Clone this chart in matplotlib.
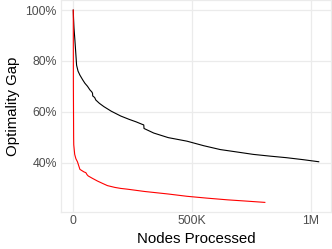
import matplotlib
matplotlib.use('agg')
import matplotlib.pyplot as plt
from matplotlib.ticker import FuncFormatter

# nodes processed vs optimality gap (%)
nodes_black = [0, 1000, 3000, 7000, 14000, 20000, 28000, 40000, 49000, 60000,
               70000, 78000, 81000, 82000, 90000, 95000, 110000, 129000, 160000,
               200000, 235000, 265000, 291000, 297000, 298000, 339000, 400000,
               479000, 550000, 619000, 700000, 758000, 830000, 898000, 970000,
               1034000]
gap_black = [100, 97, 93, 88, 78.3, 76, 74.4, 72.5, 71.2, 70,
             68.6, 67.8, 67.3, 66.2, 65.6, 64.6, 63.3, 62, 60.2,
             58.3, 57, 56, 55, 54.8, 53.4, 51.6, 49.8,
             48.4, 46.6, 45.1, 44.0, 43.2, 42.5, 41.9, 41.1,
             40.3]

nodes_red = [0, 500, 1500, 2000, 6000, 11000, 18000, 21000, 28000, 45000,
             53000, 58000, 63000, 80000, 102000, 125000, 144000, 175000,
             200000, 228000, 300000, 400000, 479000, 560000, 650000, 730000,
             807000]
gap_red = [100, 70, 50, 47, 43.2, 41.5, 40.2, 39.3, 37.3, 36.3,
           36, 35.2, 34.7, 33.8, 32.7, 31.7, 30.9, 30.2,
           29.8, 29.5, 28.6, 27.6, 26.7, 26.0, 25.3, 24.8,
           24.3]

x_ticks = [0, 500000, 1000000]
y_ticks = [40, 60, 80, 100]

plt.rcParams['font.family'] = ['Liberation Sans', 'DejaVu Sans']

fig = plt.figure(figsize=(3.32, 2.49), dpi=100)
ax = fig.add_axes([61/332, 1 - 212/249, 270/332, 211.5/249])

ax.plot(nodes_black, gap_black, color='black', lw=0.8, zorder=3)
ax.plot(nodes_red, gap_red, color='#FF0000', lw=0.8, zorder=3)

# ggplot-style 5% expansion
xmin = min(nodes_black + nodes_red); xmax = max(nodes_black + nodes_red)
ymin = min(gap_black + gap_red); ymax = max(gap_black + gap_red)
dx = (xmax - xmin) * 0.05
dy = (ymax - ymin) * 0.05
ax.set_xlim(xmin - dx, xmax + dx)
ax.set_ylim(ymin - dy, ymax + dy)

ax.set_xticks(x_ticks)
ax.set_yticks(y_ticks)

def fmt_x(v, pos):
    if v == 0:
        return '0'
    if v >= 1e6:
        return f'{v/1e6:g}M'
    return f'{v/1e3:g}K'

ax.xaxis.set_major_formatter(FuncFormatter(fmt_x))
ax.yaxis.set_major_formatter(FuncFormatter(lambda v, p: f'{v:g}%'))

ax.grid(True, color='#EBEBEB', lw=0.9, zorder=0)
ax.set_axisbelow(True)
for s in ax.spines.values():
    s.set_color('#EBEBEB')
    s.set_linewidth(0.9)

ax.tick_params(length=0, labelsize=8.8, labelcolor='#4D4D4D')
ax.tick_params(axis='y', pad=3)
ax.tick_params(axis='x', pad=2.5)

ax.set_xlabel('Nodes Processed', fontsize=10.8, labelpad=3)
ax.set_ylabel('Optimality Gap', fontsize=10.8, labelpad=4)

plt.savefig('out.png', dpi=100)
